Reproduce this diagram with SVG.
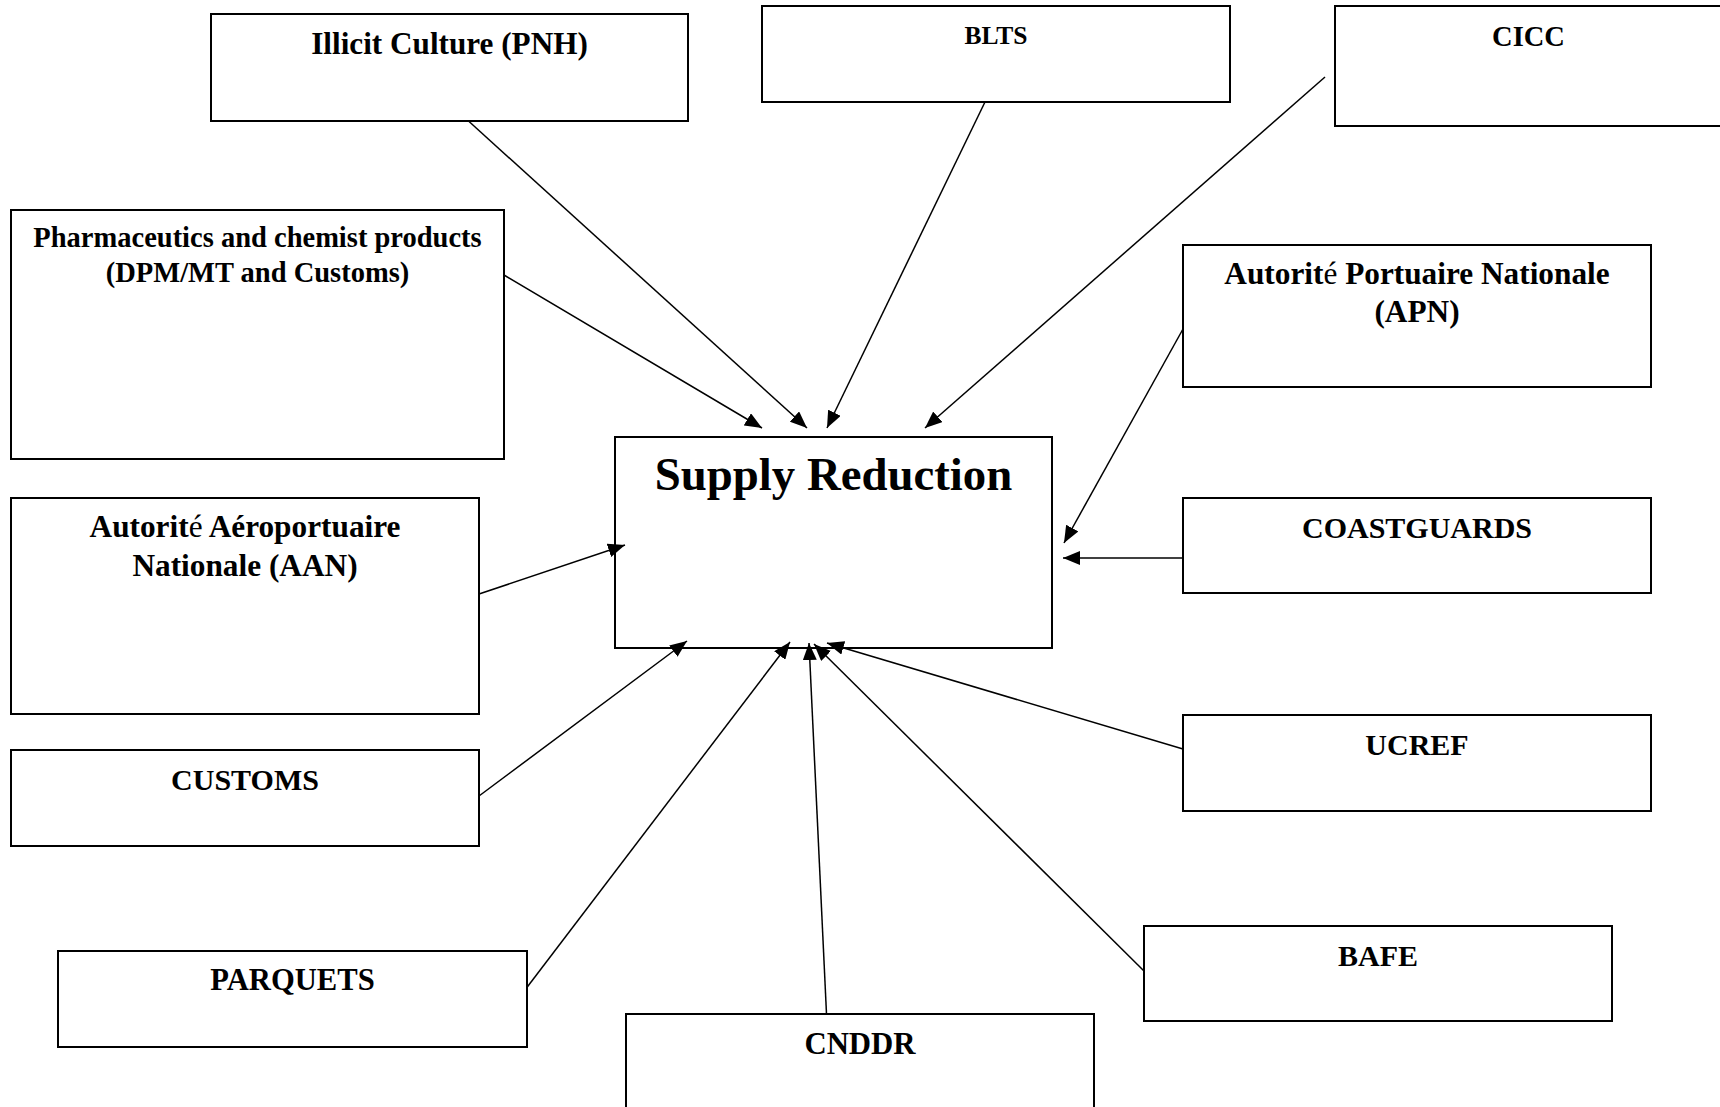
<svg xmlns="http://www.w3.org/2000/svg" width="1720" height="1107" viewBox="0 0 1720 1107">
<style>
.box{fill:#fff;stroke:#000;stroke-width:2}
.t{font-family:"Liberation Serif","Times New Roman",serif;font-weight:bold;font-size:30px;fill:#000;text-anchor:middle}
.lt{font-weight:normal}
.c{stroke:#000;stroke-width:1.5;fill:none;marker-end:url(#ah)}
</style>
<defs>
<marker id="ah" markerUnits="userSpaceOnUse" markerWidth="18" markerHeight="14" refX="17" refY="7" orient="auto">
<path d="M0,0 L17,7 L0,14 z" fill="#000"/>
</marker>
</defs>
<rect width="1720" height="1107" fill="#fff"/>
<g id="n-illicit"><rect class="box" x="211" y="14" width="477" height="107"/><text class="t" x="449.5" y="54" style="font-size:31.2px">Illicit Culture (PNH)</text></g>
<g id="n-blts"><rect class="box" x="762" y="6" width="468" height="96"/><text class="t" x="996" y="44" style="font-size:25.5px">BLTS</text></g>
<g id="n-cicc"><rect class="box" x="1335" y="6" width="390" height="120"/><text class="t" x="1528.5" y="46" style="font-size:28.5px">CICC</text></g>
<g id="n-pharma"><rect class="box" x="11" y="210" width="493" height="249"/><text class="t" x="257.5" y="247" style="font-size:28.5px">Pharmaceutics and chemist products</text><text class="t" x="257.5" y="282" style="font-size:28.5px">(DPM/MT and Customs)</text></g>
<g id="n-apn"><rect class="box" x="1183" y="245" width="468" height="142"/><text class="t" x="1417" y="284" style="font-size:31.3px">Autorit<tspan class="lt">é</tspan> Portuaire Nationale</text><text class="t" x="1417" y="322" style="font-size:31.3px">(APN)</text></g>
<g id="n-supply"><rect class="box" x="615" y="437" width="437" height="211"/><text class="t" x="833.5" y="490" style="font-size:46.8px">Supply Reduction</text></g>
<g id="n-aan"><rect class="box" x="11" y="498" width="468" height="216"/><text class="t" x="245" y="537" style="font-size:31.3px">Autorit<tspan class="lt">é</tspan> Aéroportuaire</text><text class="t" x="245" y="576" style="font-size:31.3px">Nationale (AAN)</text></g>
<g id="n-coast"><rect class="box" x="1183" y="498" width="468" height="95"/><text class="t" x="1417" y="538">COASTGUARDS</text></g>
<g id="n-customs"><rect class="box" x="11" y="750" width="468" height="96"/><text class="t" x="245" y="790">CUSTOMS</text></g>
<g id="n-ucref"><rect class="box" x="1183" y="715" width="468" height="96"/><text class="t" x="1417" y="755">UCREF</text></g>
<g id="n-parquets"><rect class="box" x="58" y="951" width="469" height="96"/><text class="t" x="292.5" y="990" style="font-size:30.6px">PARQUETS</text></g>
<g id="n-bafe"><rect class="box" x="1144" y="926" width="468" height="95"/><text class="t" x="1378" y="966">BAFE</text></g>
<g id="n-cnddr"><rect class="box" x="626" y="1014" width="468" height="100"/><text class="t" x="860" y="1054" style="font-size:30.8px">CNDDR</text></g>
<g id="connectors">
<line class="c" x1="468.5" y1="121" x2="807" y2="428"/>
<line class="c" x1="504" y1="275" x2="762" y2="428"/>
<line class="c" x1="985" y1="102" x2="827" y2="428"/>
<line class="c" x1="1325" y1="77" x2="925" y2="428"/>
<line class="c" x1="1183" y1="329" x2="1064" y2="543"/>
<line class="c" x1="1183" y1="558" x2="1063" y2="558"/>
<line class="c" x1="479" y1="594" x2="625" y2="545"/>
<line class="c" x1="479" y1="796" x2="687" y2="641"/>
<line class="c" x1="526.5" y1="988" x2="790" y2="642"/>
<line class="c" x1="826.5" y1="1014" x2="809" y2="643"/>
<line class="c" x1="1144" y1="971" x2="814" y2="644"/>
<line class="c" x1="1183" y1="749" x2="827" y2="643"/>
</g>
</svg>
